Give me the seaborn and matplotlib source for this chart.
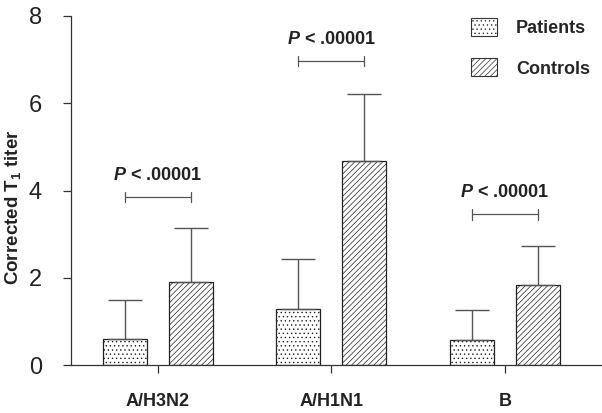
import matplotlib
matplotlib.use("Agg")
import matplotlib.pyplot as plt
import matplotlib.patches as mpatches
import seaborn as sns
import pandas as pd

# values
strains = ["A/H3N2", "A/H1N1", "B"]
patients_mean = [0.60, 1.28, 0.58]
patients_sd = [0.90, 1.15, 0.69]
controls_mean = [1.90, 4.68, 1.83]
controls_sd = [1.23, 1.54, 0.89]
p_labels = ["P < .00001", "P < .00001", "P < .00001"]
p_heights = [3.85, 6.97, 3.45]

sns.set_style("ticks")
plt.rcParams["font.family"] = ["Liberation Sans", "DejaVu Sans"]
plt.rcParams["mathtext.fontset"] = "custom"
plt.rcParams["mathtext.rm"] = "Liberation Sans:bold"
plt.rcParams["mathtext.bf"] = "Liberation Sans:bold"
plt.rcParams["mathtext.it"] = "Liberation Sans:bold:italic"
plt.rcParams["hatch.linewidth"] = 0.5
plt.rcParams["hatch.color"] = "#333333"

df = pd.DataFrame({
    "strain": strains * 2,
    "group": ["Patients"] * 3 + ["Controls"] * 3,
    "value": patients_mean + controls_mean,
})

fig = plt.figure(figsize=(6.02, 4.13), dpi=100)
ax = fig.add_axes([71 / 602, 1 - 365 / 413, 1 - 71 / 602, (365 - 16) / 413])

sns.barplot(data=df, x="strain", y="value", hue="group", order=strains,
            hue_order=["Patients", "Controls"], width=0.76, gap=0.33,
            palette=["white", "white"], edgecolor="#222222",
            linewidth=0.9, errorbar=None, legend=False, ax=ax)

hatches = {"Patients": "....", "Controls": "//////"}
bars = ax.patches
centers = {"Patients": [], "Controls": []}
for i, bar in enumerate(bars[:6]):
    grp = "Patients" if i < 3 else "Controls"
    bar.set_hatch(hatches[grp])
    bar.set_facecolor("white")
    centers[grp].append(bar.get_x() + bar.get_width() / 2)

for grp, means, sds in [("Patients", patients_mean, patients_sd),
                        ("Controls", controls_mean, controls_sd)]:
    ax.errorbar(centers[grp], means, yerr=[[0] * 3, sds], fmt="none",
                ecolor="#555555", elinewidth=1.0, capsize=12, capthick=1.0,
                zorder=1)

# significance brackets
for i in range(3):
    x0, x1 = centers["Patients"][i], centers["Controls"][i]
    h = p_heights[i]
    ax.plot([x0, x1], [h, h], color="#555555", lw=0.9)
    ax.plot([x0, x0], [h - 0.12, h + 0.12], color="#555555", lw=0.9)
    ax.plot([x1, x1], [h - 0.12, h + 0.12], color="#555555", lw=0.9)
    txt = p_labels[i].replace("P", "$P$", 1)
    ax.text((x0 + x1) / 2, h + 0.3, txt, ha="center", va="bottom",
            fontsize=13, fontweight="bold", color="#222222")

ax.set_ylim(0, 8)
ax.set_xlim(-0.5, 2.56)
ax.set_yticks([0, 2, 4, 6, 8])
ax.tick_params(axis="y", labelsize=17, length=6, width=0.9, colors="#333333",
               labelcolor="#222222", pad=15)
ax.tick_params(axis="x", labelsize=13, length=6, width=0.9, pad=14,
               colors="#333333", labelcolor="#222222")
for lab in ax.get_xticklabels():
    lab.set_fontweight("bold")
ax.set_xlabel("")
ax.set_ylabel(r"Corrected T$_{1}$ titer", fontsize=13.5, fontweight="bold",
              color="#222222")
ax.yaxis.set_label_coords(-0.09, 0.453)
sns.despine(ax=ax)
for s in ["left", "bottom"]:
    ax.spines[s].set_linewidth(0.9)
    ax.spines[s].set_color("#333333")

handles = [mpatches.Patch(facecolor="white", edgecolor="#333333", hatch="....", lw=0.8),
           mpatches.Patch(facecolor="white", edgecolor="#333333", hatch="//////", lw=0.8)]
ax.legend(handles, ["Patients", "Controls"], loc="upper left",
          bbox_to_anchor=(0.753, 0.995), frameon=False, borderpad=0,
          borderaxespad=0, prop={"weight": "bold", "size": 13},
          handlelength=1.45, handleheight=1.15, labelspacing=1.2, handletextpad=1.05)

fig.savefig("out.png", dpi=100)
